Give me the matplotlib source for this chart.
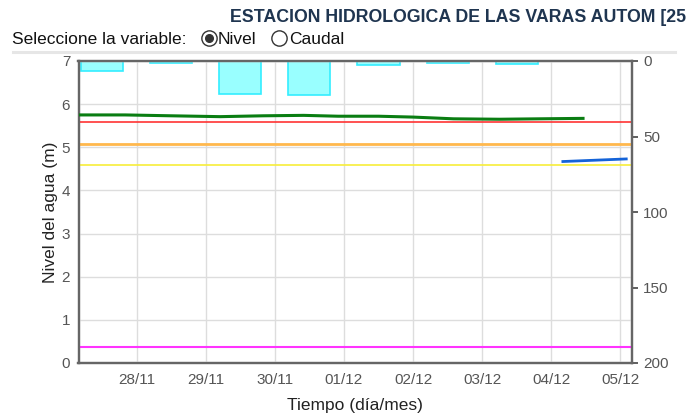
import numpy as np
import matplotlib
matplotlib.use("Agg")
import matplotlib.pyplot as plt
import matplotlib.dates as mdates
from matplotlib.lines import Line2D

plt.rcParams['font.family'] = ['Liberation Sans', 'DejaVu Sans']

# water level (m), green series
nivel_t = np.array(['2023-11-27T04:00', '2023-11-27T20:00', '2023-11-28T12:00',
                    '2023-11-29T05:00', '2023-11-29T20:00', '2023-11-30T10:00',
                    '2023-11-30T22:00', '2023-12-01T12:00', '2023-12-02T00:00',
                    '2023-12-02T14:00', '2023-12-03T06:00', '2023-12-03T20:00',
                    '2023-12-04T11:00'], dtype='datetime64[m]')
nivel = [5.75, 5.75, 5.73, 5.71, 5.73, 5.74, 5.72, 5.72, 5.70, 5.66, 5.65, 5.66, 5.67]

# second level series (blue)
nivel2_t = np.array(['2023-12-04T04:00', '2023-12-05T02:00'], dtype='datetime64[m]')
nivel2 = [4.67, 4.73]

# daily precipitation (right axis, inverted)
lluvia_t = np.array(['2023-11-27T12:00', '2023-11-28T12:00', '2023-11-29T12:00',
                     '2023-11-30T12:00', '2023-12-01T12:00', '2023-12-02T12:00',
                     '2023-12-03T12:00'], dtype='datetime64[m]')
lluvia = [6.4, 1.5, 21.7, 22.6, 2.5, 1.5, 1.8]

# reference levels
umbrales = [5.59, 5.07, 4.58, 0.38]
umbral_colores = ['#ff3333', '#ffb84d', '#f7ee3a', '#ff33ff']
umbral_grosor = [1.2, 2.0, 1.2, 1.5]

dias = np.array(['2023-11-28', '2023-11-29', '2023-11-30', '2023-12-01',
                 '2023-12-02', '2023-12-03', '2023-12-04', '2023-12-05'],
                dtype='datetime64[m]')
dia_labels = ['28/11', '29/11', '30/11', '01/12', '02/12', '03/12', '04/12', '05/12']

t0 = np.datetime64('2023-11-27T03:50')
t1 = np.datetime64('2023-12-05T04:00')


def to_num(a):
    return mdates.date2num(a.astype('datetime64[s]').astype(object))


fig = plt.figure(figsize=(6.92, 4.18), dpi=100)
ax = fig.add_axes([78.5 / 692, 55 / 418, (632 - 78.5) / 692, (363 - 61) / 418])
ax2 = ax.twinx()

# precipitation bars hanging from the top
ax2.bar(to_num(lluvia_t), lluvia, width=0.61, color='#99ffff',
        edgecolor='#33eeff', linewidth=1.2, zorder=1)
ax2.set_ylim(200, 0)
ax2.set_yticks([0, 50, 100, 150, 200])
ax2.tick_params(axis='y', colors='#444', labelcolor='#555', labelsize=11,
                length=4, width=1.2, direction='out', pad=4)

ax.set_zorder(ax2.get_zorder() + 1)
ax.patch.set_visible(False)

for val, c, lw in zip(umbrales, umbral_colores, umbral_grosor):
    ax.axhline(val, color=c, linewidth=lw, zorder=2)

ax.plot(to_num(nivel_t), nivel, color='#0a7d12', linewidth=2.2, zorder=3)
ax.plot(to_num(nivel2_t), nivel2, color='#1463d8', linewidth=2.0, zorder=3)

ax.set_xlim(to_num(np.array([t0]))[0], to_num(np.array([t1]))[0])
ax.set_ylim(0, 7)
ax.set_xticks(to_num(dias))
ax.set_xticklabels(dia_labels)
ax.set_yticks(range(0, 8))
ax.tick_params(axis='both', length=0, labelcolor='#555', labelsize=11)
ax.tick_params(axis='x', pad=7)
ax.tick_params(axis='y', pad=6)
ax.grid(True, color='#dddddd', linewidth=1.0, zorder=0)

for a in (ax, ax2):
    for s in a.spines.values():
        s.set_color('#666666')
        s.set_linewidth(1.6)

ax.set_ylabel('Nivel del agua (m)', fontsize=12.5, color='#222', labelpad=3)
ax.set_xlabel('Tiempo (día/mes)', fontsize=12.5, color='#222', labelpad=8)

# header (station name runs up to the right edge)
fig.text(230 / 692, 1 - 17 / 418, 'ESTACION HIDROLOGICA DE LAS VARAS AUTOM [25',
         fontsize=12.8, fontweight='bold', color='#1f3550', ha='left', va='center')
fig.text(12 / 692, 1 - 39 / 418, 'Seleccione la variable:', fontsize=12.5,
         color='#111', ha='left', va='center')
fig.text(218 / 692, 1 - 39 / 418, 'Nivel', fontsize=12.5, color='#111', ha='left', va='center')
fig.text(289 / 692, 1 - 39 / 418, 'Caudal', fontsize=12.5, color='#111', ha='left', va='center')
fig.add_artist(Line2D([209 / 692], [1 - 38 / 418], marker='o', markersize=11,
                      markerfacecolor='white', markeredgecolor='#333', markeredgewidth=1.0))
fig.add_artist(Line2D([209 / 692], [1 - 38 / 418], marker='o', markersize=5.5,
                      markerfacecolor='#333', markeredgecolor='#333'))
fig.add_artist(Line2D([279 / 692], [1 - 38 / 418], marker='o', markersize=11,
                      markerfacecolor='white', markeredgecolor='#333', markeredgewidth=1.0))
fig.add_artist(Line2D([13 / 692, 675 / 692], [1 - 52 / 418, 1 - 52 / 418],
                      color='#e6e6e6', linewidth=2.2))

fig.savefig('out.png', dpi=100)
